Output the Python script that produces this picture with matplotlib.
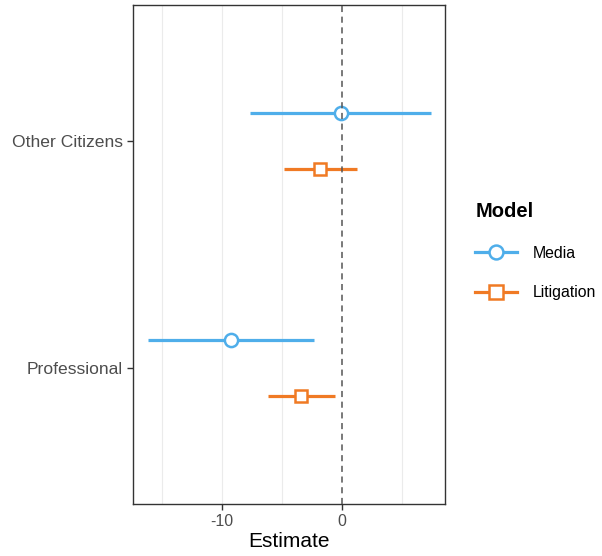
import matplotlib
matplotlib.use("Agg")
import matplotlib.pyplot as plt
from matplotlib.lines import Line2D

plt.rcParams["font.family"] = ["Liberation Sans", "DejaVu Sans"]

# data
categories = ["Professional", "Other Citizens"]
models = ["Media", "Litigation"]
media_est = [-9.25, -0.1]
media_lo = [-16.2, -7.65]
media_hi = [-2.3, 7.45]
litig_est = [-3.42, -1.83]
litig_lo = [-6.2, -4.83]
litig_hi = [-0.58, 1.22]

COLORS = {"Media": "#4FAEEA", "Litigation": "#F07A24"}
MARKERS = {"Media": "o", "Litigation": "s"}
OFFSET = {"Media": 0.125, "Litigation": -0.125}
series = {
    "Media": (media_est, media_lo, media_hi),
    "Litigation": (litig_est, litig_lo, litig_hi),
}

fig = plt.figure(figsize=(6.02, 5.56), dpi=100)
ax = fig.add_axes([0.2204, 0.0935, 0.5186, 0.8975])

for gx in [-15, -10, -5, 5]:
    ax.axvline(gx, color="#EBEBEB", linewidth=0.8, zorder=0)

for m in models:
    est, lo, hi = series[m]
    for i, cat in enumerate(categories):
        y = i + 1 + OFFSET[m]
        ax.plot([lo[i], hi[i]], [y, y], color=COLORS[m], linewidth=2.3,
                solid_capstyle="butt", zorder=2)
        ax.plot(est[i], y, marker=MARKERS[m], markersize=9.5 if m == "Media" else 8.8,
                markerfacecolor="white", markeredgecolor=COLORS[m],
                markeredgewidth=1.8, zorder=3)

ax.axvline(0, color="#555555", linestyle=(0, (4, 3)), linewidth=1.1, zorder=4)

ax.set_xlim(-17.44, 8.58)
ax.set_ylim(0.4, 2.6)
ax.set_xticks([-10, 0])
ax.set_xticklabels(["-10", "0"])
ax.set_yticks([1, 2])
ax.set_yticklabels(categories)
ax.tick_params(axis="both", colors="#333333", labelcolor="#4D4D4D",
               labelsize=11.5, length=4, width=1)
ax.tick_params(axis="y", labelsize=12.6, pad=3)
for s in ax.spines.values():
    s.set_color("#333333")
    s.set_linewidth(1)

ax.set_xlabel("Estimate", fontsize=15, labelpad=2)

handles = [Line2D([0], [0], color=COLORS[m], linewidth=2.3, marker=MARKERS[m],
                  markersize=10, markerfacecolor="white", markeredgecolor=COLORS[m],
                  markeredgewidth=1.8) for m in models]
leg = fig.legend(handles, models, title="Model", loc="upper left",
                 bbox_to_anchor=(0.766, 0.662), frameon=False, fontsize=11.4,
                 handlelength=2.6, labelspacing=1.55, handletextpad=1.0,
                 title_fontproperties={"weight": "bold", "size": 14.5})
leg._legend_box.align = "left"

fig.savefig("out.png", dpi=100)
